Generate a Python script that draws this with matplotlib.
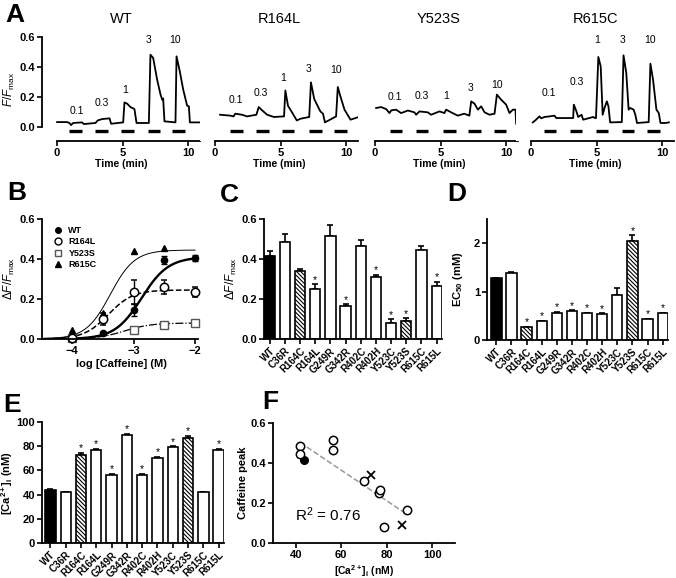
import numpy as np
import matplotlib
matplotlib.use("Agg")
import matplotlib.pyplot as plt
from matplotlib.lines import Line2D

plt.rcParams['font.family'] = ['Liberation Sans', 'DejaVu Sans']
plt.rcParams['mathtext.fontset'] = 'custom'
plt.rcParams['mathtext.rm'] = 'Liberation Sans'
plt.rcParams['mathtext.it'] = 'Liberation Sans:italic'
plt.rcParams['mathtext.bf'] = 'Liberation Sans:bold'
plt.rcParams['hatch.linewidth'] = 0.8

# ---- panel A: caffeine traces (time in min, F/Fmax) ----
wt_t = [0, 0.76, 0.94, 1.07, 1.22, 1.9, 2.04, 2.93, 3.1, 3.43, 4.0, 4.12, 5.04, 5.14, 5.34, 5.6, 5.9,
        6.06, 7.0, 7.12, 7.33, 7.63, 7.89, 8.02, 8.09, 8.19, 9.03, 9.11, 9.36, 9.62, 9.92, 10.05, 10.13, 10.9]
wt_y = [0.033, 0.033, 0.027, 0.013, 0.027, 0.031, 0.02, 0.027, 0.044, 0.053, 0.058, 0.022, 0.031, 0.164,
        0.156, 0.133, 0.12, 0.027, 0.027, 0.482, 0.46, 0.316, 0.216, 0.182, 0.191, 0.038, 0.031, 0.471,
        0.371, 0.249, 0.142, 0.138, 0.031, 0.031]
r164l_t = [0.38, 1.15, 1.41, 1.54, 2.05, 2.44, 3.15, 3.33, 3.59, 3.97, 4.49, 5.26, 5.36, 5.56, 5.9, 6.23,
           6.54, 7.18, 7.31, 7.56, 8.03, 8.23, 8.38, 8.85, 9.23, 9.36, 9.56, 9.87, 10.33, 10.85]
r164l_y = [0.082, 0.076, 0.071, 0.089, 0.082, 0.071, 0.082, 0.133, 0.111, 0.082, 0.067, 0.071, 0.244,
           0.142, 0.093, 0.044, 0.056, 0.067, 0.298, 0.187, 0.104, 0.089, 0.031, 0.053, 0.071, 0.267,
           0.204, 0.116, 0.049, 0.064]
y523s_t = [0.08, 0.46, 0.84, 1.1, 1.23, 1.6, 1.985, 2.5, 3.0, 3.13, 3.38, 4.02, 4.27, 4.91, 5.29, 5.42,
           5.8, 6.31, 6.8, 7.19, 7.33, 7.58, 7.84, 8.09, 8.35, 8.73, 9.11, 9.29, 9.62, 10.0, 10.25, 10.51,
           10.71, 10.76]
y523s_y = [0.127, 0.133, 0.12, 0.093, 0.111, 0.116, 0.093, 0.11, 0.098, 0.082, 0.104, 0.098, 0.082, 0.104,
           0.093, 0.116, 0.098, 0.076, 0.089, 0.076, 0.171, 0.156, 0.116, 0.138, 0.098, 0.082, 0.089, 0.216,
           0.182, 0.149, 0.093, 0.116, 0.116, 0.022]
r615c_t = [0.13, 0.38, 0.64, 0.77, 1.03, 1.41, 1.79, 1.92, 3.21, 3.26, 3.46, 3.59, 3.85, 3.97, 4.74, 4.87,
           4.95, 5.13, 5.31, 5.46, 5.6, 5.78, 5.9, 6.03, 6.92, 7.05, 7.26, 7.44, 7.56, 7.82, 7.95, 8.08,
           8.97, 9.1, 9.3, 9.56, 9.74, 9.87, 10.26, 10.51]
r615c_y = [0.031, 0.049, 0.071, 0.058, 0.067, 0.071, 0.076, 0.06, 0.06, 0.149, 0.104, 0.067, 0.082, 0.049,
           0.067, 0.06, 0.06, 0.467, 0.404, 0.082, 0.127, 0.171, 0.138, 0.031, 0.033, 0.478, 0.36, 0.116,
           0.127, 0.116, 0.082, 0.027, 0.033, 0.422, 0.316, 0.116, 0.093, 0.027, 0.027, 0.031]
trace_names = ['WT', 'R164L', 'Y523S', 'R615C']
trace_t = [wt_t, r164l_t, y523s_t, r615c_t]
trace_y = [wt_y, r164l_y, y523s_y, r615c_y]
stim_start = [[0.94, 2.9, 4.9, 6.9, 8.8], [1.15, 3.15, 5.1, 7.2, 9.1],
              [1.1, 3.1, 5.2, 7.1, 9.05], [0.95, 2.95, 4.95, 6.9, 8.85]]
caff_labels = ['0.1', '0.3', '1', '3', '10']
lab_t = [[1.5, 3.4, 5.2, 7.0, 9.0], [1.55, 3.5, 5.2, 7.1, 9.2],
         [1.48, 3.6, 5.4, 7.3, 9.3], [1.36, 3.5, 5.05, 7.0, 9.05]]
lab_y = [[0.11, 0.16, 0.25, 0.58, 0.58], [0.18, 0.23, 0.33, 0.39, 0.38],
         [0.2, 0.21, 0.205, 0.26, 0.28], [0.23, 0.3, 0.58, 0.58, 0.58]]

# ---- panel B: dose response ----
log_caff = [-4, -3.5, -3, -2.5, -2]
b_wt = [0.005, 0.028, 0.143, 0.393, 0.403]
b_wt_err = [0.004, 0.006, 0.03, 0.02, 0.015]
b_r164l = [0.005, 0.10, 0.233, 0.26, 0.233]
b_r164l_err = [0.004, 0.03, 0.06, 0.035, 0.025]
b_y523s = [0.005, None, 0.047, 0.072, 0.08]
b_r615c = [0.045, 0.132, 0.44, 0.457, None]
fit_top = [0.41, 0.245, 0.08, 0.445]
fit_logec50 = [-2.87, -3.41, -3.15, -3.38]
fit_hill = [2.0, 2.2, 2.0, 2.2]

# ---- panels C, D, E: per mutant ----
mutants = ['WT', 'C36R', 'R164C', 'R164L', 'G249R', 'G342R', 'R402C', 'R402H', 'Y523C', 'Y523S', 'R615C', 'R615L']
hatched = [False, False, True, False, False, False, False, False, False, True, False, False]
peak = [0.417, 0.483, 0.338, 0.25, 0.517, 0.167, 0.463, 0.31, 0.08, 0.088, 0.445, 0.267]
peak_err = [0.025, 0.04, 0.012, 0.025, 0.055, 0.008, 0.033, 0.012, 0.02, 0.017, 0.022, 0.02]
peak_sig = [False, False, False, True, False, True, False, True, True, True, False, True]
ec50 = [1.28, 1.39, 0.26, 0.39, 0.565, 0.607, 0.55, 0.54, 0.94, 2.05, 0.43, 0.55]
ec50_err = [0.01, 0.02, 0.01, 0.01, 0.02, 0.01, 0.01, 0.01, 0.13, 0.11, 0.01, 0.01]
ec50_sig = [False, False, True, True, True, True, True, True, False, True, True, True]
ca = [43.5, 41.9, 73.0, 76.6, 56.2, 89.0, 56.2, 70.2, 79.0, 86.8, 41.9, 77.0]
ca_err = [0.9, 0.4, 1.2, 0.8, 0.8, 1.0, 0.8, 0.8, 0.8, 1.8, 0.4, 0.7]
ca_sig = [False, False, True, True, True, True, True, True, True, True, False, True]

W, H = 676, 578
fig = plt.figure(figsize=(W / 100, H / 100), dpi=100)


def pax(l, t, r, b):
    return fig.add_axes([l / W, 1 - b / H, (r - l) / W, (b - t) / H])


def prism(ax, fs=8):
    for s in ['top', 'right']:
        ax.spines[s].set_visible(False)
    for s in ['left', 'bottom']:
        ax.spines[s].set_linewidth(1.3)
    ax.tick_params(direction='out', length=3.5, width=1.2, labelsize=fs, pad=1.5)
    for lab in ax.get_xticklabels() + ax.get_yticklabels():
        lab.set_fontweight('bold')


def plabel(x, y, s):
    fig.text(x / W, 1 - y / H, s, fontsize=19, fontweight='bold', ha='left', va='center')


# panel A
a_left = [42, 200, 360, 516]
for i in range(4):
    ax = pax(a_left[i], 37, a_left[i] + 158, 141)
    ax.plot(trace_t[i], trace_y[i], color='black', lw=1.3)
    for s0 in stim_start[i]:
        ax.hlines(-0.025, s0, s0 + 0.95, color='black', lw=2.4)
    for lt, ly, lb in zip(lab_t[i], lab_y[i], caff_labels):
        ax.text(lt, ly, lb, fontsize=7.5, ha='center', va='center')
    ax.set_xlim(-1.15, 10.9)
    ax.set_ylim(-0.093, 0.6)
    ax.set_xticks([0, 5, 10])
    ax.spines['bottom'].set_bounds(0, 10.9)
    ax.set_xlabel('Time (min)', fontsize=7.5, fontweight='bold', labelpad=1)
    ax.set_title(trace_names[i], fontsize=10.5, pad=10)
    if i == 0:
        ax.set_yticks([0, 0.2, 0.4, 0.6])
        ax.set_yticklabels(['0.0', '0.2', '0.4', '0.6'])
        ax.spines['left'].set_bounds(0, 0.6)
        ax.set_ylabel(r'$\mathit{F/F}_{\mathrm{max}}$', fontsize=8.5, labelpad=2)
    else:
        ax.spines['left'].set_visible(False)
        ax.set_yticks([])
    prism(ax)

# panel B
ax = pax(42, 219, 200, 339)
xs = np.linspace(-4.45, -2, 200)
styles = [dict(ls='-', lw=1.7), dict(ls='--', lw=1.1), dict(ls='-.', lw=0.9), dict(ls='-', lw=0.7)]
for k in range(4):
    yy = fit_top[k] / (1 + 10 ** (fit_hill[k] * (fit_logec50[k] - xs)))
    ax.plot(xs, yy, color='black', **styles[k])
ax.errorbar(log_caff, b_wt, yerr=b_wt_err, fmt='o', color='black', ms=4.5, capsize=2.5, elinewidth=1,
            clip_on=False)
ax.errorbar(log_caff, b_r164l, yerr=b_r164l_err, fmt='o', mfc='white', mec='black', color='black',
            ms=6, mew=1.1, capsize=2.5, elinewidth=1, clip_on=False)
ax.plot([x for x, v in zip(log_caff, b_y523s) if v is not None], [v for v in b_y523s if v is not None],
        's', mfc='white', mec='#555555', ms=5.5, mew=1.0, clip_on=False)
ax.plot([x for x, v in zip(log_caff, b_r615c) if v is not None], [v for v in b_r615c if v is not None],
        '^', color='black', ms=4.5, clip_on=False)
handles = [Line2D([], [], marker='o', ls='', color='black', ms=4),
           Line2D([], [], marker='o', ls='', mfc='white', mec='black', ms=5),
           Line2D([], [], marker='s', ls='', mfc='white', mec='#555555', ms=5),
           Line2D([], [], marker='^', ls='', color='black', ms=4)]
ax.legend(handles, trace_names, loc='upper left', bbox_to_anchor=(0.03, 1.0), frameon=False,
          prop={'weight': 'bold', 'size': 6.5}, handlelength=1.0, handletextpad=0.6, labelspacing=0.25,
          borderpad=0.3)
ax.set_xlim(-4.49, -1.92)
ax.set_ylim(0, 0.6)
ax.set_xticks([-4, -3, -2])
ax.set_yticks([0, 0.2, 0.4, 0.6])
ax.set_yticklabels(['0.0', '0.2', '0.4', '0.6'])
ax.spines['bottom'].set_bounds(-4.49, -1.95)
ax.set_xlabel('log [Caffeine] (M)', fontsize=8, fontweight='bold', labelpad=2)
ax.set_ylabel(r'$\Delta\mathit{F/F}_{\mathrm{max}}$', fontsize=8.5, labelpad=2)
prism(ax)


def bar_panel(ax, vals, errs, sig, star_off):
    x = np.arange(len(mutants))
    for i in range(len(mutants)):
        if i == 0:
            fc, hatch = 'black', None
        else:
            fc, hatch = 'white', ('\\' * 8 if hatched[i] else None)
        ax.bar(x[i], vals[i], width=0.68, color=fc, edgecolor='black', lw=1.2, hatch=hatch, zorder=2)
        ax.errorbar(x[i], vals[i], yerr=[[0], [errs[i]]], color='black', capsize=2.4, elinewidth=1.2,
                    capthick=1.2, zorder=1)
        if sig[i]:
            ax.text(x[i], vals[i] + errs[i] + star_off, '*', ha='center', va='center', fontsize=7.5)
    ax.set_xticks(x)
    ax.set_xticklabels(mutants, rotation=45, ha='right', rotation_mode='anchor', fontsize=7)


# panel C
ax = pax(264, 219, 442, 339)
bar_panel(ax, peak, peak_err, peak_sig, 0.022)
ax.set_xlim(-0.37, 11.35)
ax.set_ylim(0, 0.6)
ax.set_yticks([0, 0.2, 0.4, 0.6])
ax.set_yticklabels(['0.0', '0.2', '0.4', '0.6'])
ax.set_ylabel(r'$\Delta\mathit{F/F}_{\mathrm{max}}$', fontsize=8.5, labelpad=2)
prism(ax, 7)
ax.tick_params(axis='y', labelsize=8)

# panel D
ax = pax(487, 219, 668, 340)
bar_panel(ax, ec50, ec50_err, ec50_sig, 0.09)
ax.set_xlim(-0.62, 11.35)
ax.set_ylim(0, 2.5)
ax.set_yticks([0, 1, 2])
ax.set_ylabel(r'EC$_{\mathbf{50}}$ (mM)', fontsize=8, fontweight='bold', labelpad=6)
prism(ax, 7)
ax.tick_params(axis='y', labelsize=8)

# panel E
ax = pax(42, 422, 224, 543)
bar_panel(ax, ca, ca_err, ca_sig, 4)
ax.set_xlim(-0.55, 11.35)
ax.set_ylim(0, 100)
ax.set_yticks([0, 20, 40, 60, 80, 100])
ax.set_ylabel(r'[Ca$^{\mathbf{2+}}$]$_{\mathbf{i}}$ (nM)', fontsize=8, fontweight='bold', labelpad=1)
prism(ax, 7)
ax.tick_params(axis='y', labelsize=8)

# panel F
ax = pax(273, 423, 455, 543)
ca_a = np.array(ca)
pk_a = np.array(peak)
slope, icpt = np.polyfit(ca_a, pk_a, 1)
r2 = np.corrcoef(ca_a, pk_a)[0, 1] ** 2
lx = np.array([ca_a.min(), ca_a.max()])
ax.plot(lx, slope * lx + icpt, ls='--', color='#999999', lw=1.1, zorder=1)
for i in range(len(mutants)):
    if i == 0:
        ax.plot(ca[i], peak[i], 'o', color='black', ms=5.5, zorder=3)
    elif hatched[i]:
        ax.plot(ca[i], peak[i], 'x', color='black', ms=6, mew=1.3, zorder=3)
    else:
        ax.plot(ca[i], peak[i], 'o', mfc='white', mec='black', ms=6, mew=1.1, zorder=3)
ax.text(39.5, 0.14, 'R$^2$ = %.2f' % r2, fontsize=11, va='center')
ax.set_xlim(30, 110)
ax.set_ylim(0, 0.6)
ax.set_xticks([40, 60, 80, 100])
ax.set_yticks([0, 0.2, 0.4, 0.6])
ax.set_yticklabels(['0.0', '0.2', '0.4', '0.6'])
ax.set_xlabel(r'[Ca$^{\mathbf{2+}}$]$_{\mathbf{i}}$ (nM)', fontsize=7.5, fontweight='bold', labelpad=2)
ax.set_ylabel('Caffeine peak', fontsize=8, fontweight='bold', labelpad=2)
prism(ax)

plabel(5, 15, 'A')
plabel(7, 193, 'B')
plabel(220, 195, 'C')
plabel(447, 194, 'D')
plabel(3, 405, 'E')
plabel(262, 402, 'F')

fig.savefig('out.png', dpi=100)
